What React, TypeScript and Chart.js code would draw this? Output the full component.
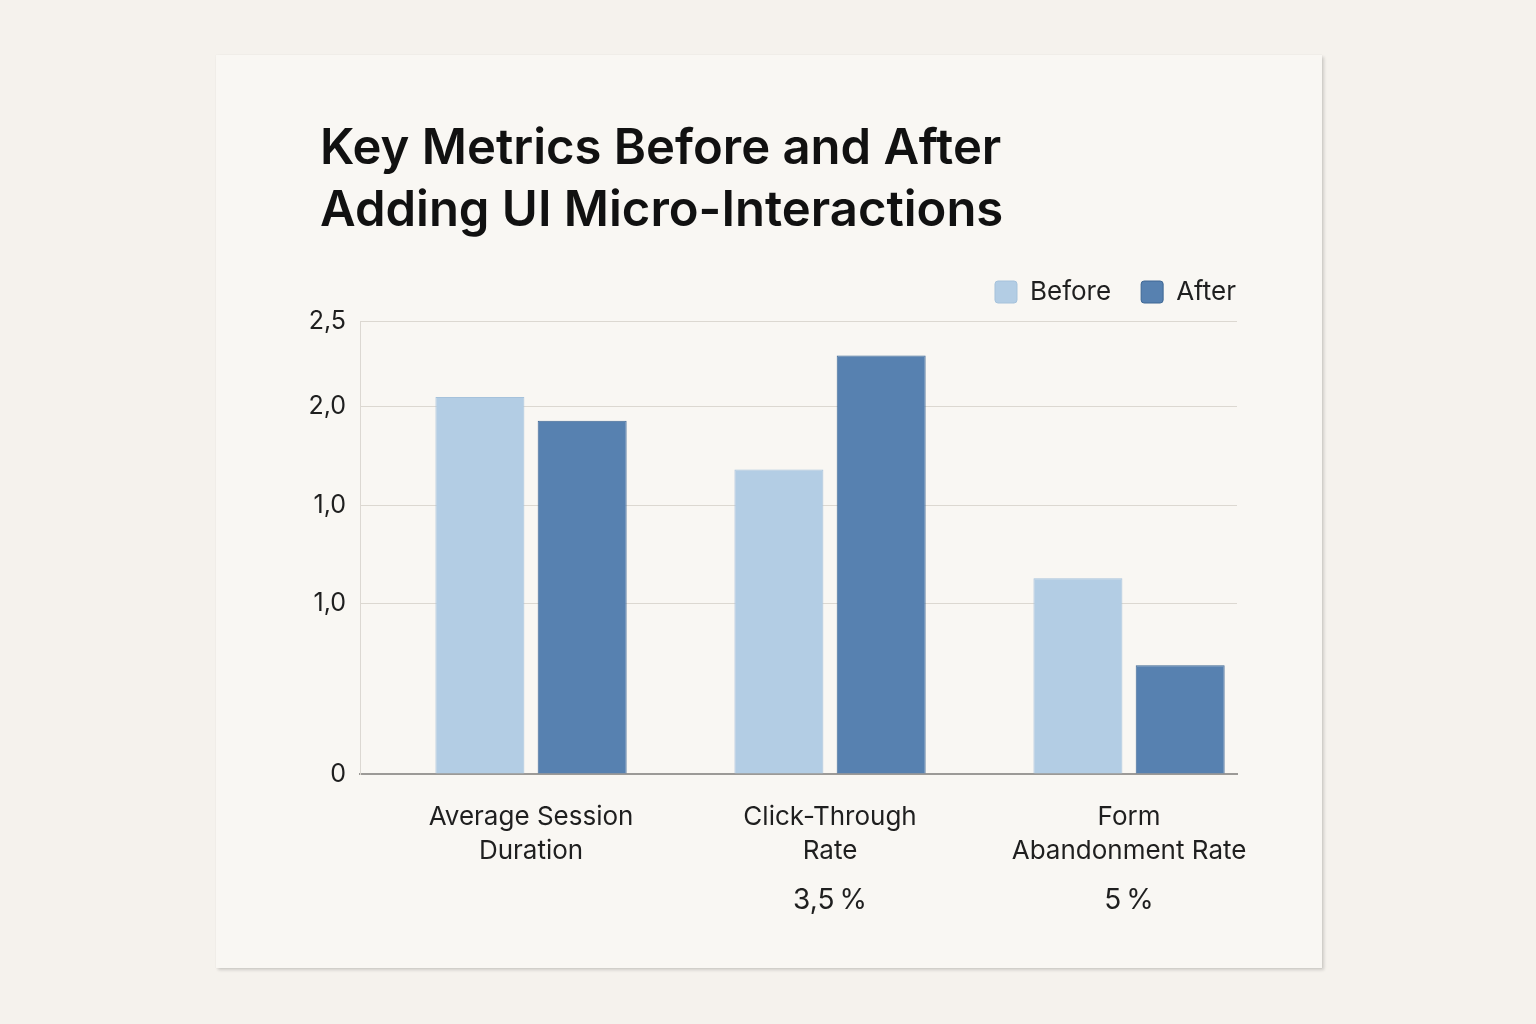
import { useEffect, useRef } from "react";
import { Chart, registerables, layouts } from "chart.js";

Chart.register(...registerables);

// Metric groups (multi-line axis labels) and the note printed under each group
const CATEGORIES: string[][] = [
  ["Average Session", "Duration"],
  ["Click-Through", "Rate"],
  ["Form", "Abandonment Rate"],
];
const NOTES = ["", "3,5\u202f%", "5\u202f%"];

// Series values
const BEFORE = [2.08, 1.68, 1.08];
const AFTER = [1.95, 2.31, 0.6];

// Y axis tick positions and their printed labels
const Y_TICK_VALUES = [0, 0.94, 1.48, 2.03, 2.5];
const Y_TICK_LABELS = ["0", "1,0", "1,0", "2,0", "2,5"];

const FONT = "Inter, 'Noto Sans', sans-serif";
const TEXT = "#1f1f1f";

// Small empty layout box that keeps some air between the legend and the plot
const legendGapPlugin = {
  id: "legendGap",
  beforeInit(chart: any) {
    const box: any = {
      position: "top",
      weight: 500,
      fullSize: true,
      options: {},
      top: 0,
      left: 0,
      right: 0,
      bottom: 0,
      width: 0,
      height: 0,
      isHorizontal: () => true,
      update(maxWidth: number) {
        box.width = maxWidth;
        box.height = 6;
      },
      draw() {},
    };
    layouts.addBox(chart, box);
  },
};

const notesPlugin = {
  id: "groupNotes",
  afterDraw(chart: any) {
    const { ctx, chartArea, scales } = chart;
    ctx.save();
    ctx.fillStyle = TEXT;
    ctx.font = `400 28px ${FONT}`;
    ctx.textAlign = "center";
    ctx.textBaseline = "middle";
    NOTES.forEach((note, i) => {
      if (!note) return;
      ctx.fillText(note, scales.x.getPixelForValue(i), chartArea.bottom + 127);
    });
    ctx.restore();
  },
};

export default function App() {
  const canvasRef = useRef<HTMLCanvasElement | null>(null);

  useEffect(() => {
    const canvas = canvasRef.current;
    if (!canvas) return;
    const chart = new Chart(canvas, {
      type: "bar",
      data: {
        datasets: [
          {
            label: "Before",
            data: BEFORE.map((y, i) => ({ x: i, y })),
            backgroundColor: "#b3cde4",
            borderColor: "#a6c2db",
            borderWidth: 1,
          },
          {
            label: "After",
            data: AFTER.map((y, i) => ({ x: i, y })),
            backgroundColor: "#5781b0",
            borderColor: "#3e6794",
            borderWidth: 1,
          },
        ],
      },
      options: {
        responsive: false,
        animation: false,
        layout: { padding: { top: 194, left: 0, right: 56, bottom: 100 } },
        datasets: {
          bar: { categoryPercentage: 0.684, barPercentage: 0.87 },
        },
        plugins: {
          legend: {
            position: "top",
            align: "end",
            labels: {
              boxWidth: 22,
              boxHeight: 22,
              padding: 30,
              color: TEXT,
              font: { family: FONT, size: 26 },
              useBorderRadius: true,
              borderRadius: 3,
            },
          },
          tooltip: { enabled: false },
        },
        scales: {
          x: {
            type: "linear",
            offset: false,
            min: -0.572,
            max: 2.361,
            afterBuildTicks: (s: any) => {
              s.ticks = CATEGORIES.map((_, i) => ({ value: i }));
            },
            afterFit: (s: any) => {
              s.paddingLeft = 0;
              s.paddingRight = 85;
              s.height = 94;
            },
            grid: { display: false, drawTicks: false },
            border: { color: "#9c9a97", width: 2 },
            ticks: {
              autoSkip: false,
              maxRotation: 0,
              padding: 26,
              color: TEXT,
              font: { family: FONT, size: 26, lineHeight: 1.31 },
              callback: (v: any) => CATEGORIES[Number(v)] ?? "",
            },
          },
          y: {
            min: 0,
            max: 2.5,
            afterBuildTicks: (s: any) => {
              s.ticks = Y_TICK_VALUES.map((value) => ({ value }));
            },
            afterFit: (s: any) => {
              s.width = 144;
            },
            grid: { color: "#dcd8d1", drawTicks: false },
            border: { color: "#dcd8d2", width: 1 },
            ticks: {
              padding: 14,
              color: TEXT,
              font: { family: FONT, size: 25 },
              callback: (_v: any, i: number) => Y_TICK_LABELS[i],
            },
          },
        },
      },
      plugins: [legendGapPlugin, notesPlugin],
    });
    return () => chart.destroy();
  }, []);

  return (
    <div style={{ position: "fixed", inset: 0, background: "#f5f2ed" }}>
      <div
        style={{
          position: "absolute",
          left: 216,
          top: 55,
          width: 1106,
          height: 913,
          background: "#f9f7f3",
          boxShadow: "2px 2px 3px rgba(0,0,0,0.16), 0 0 1px rgba(0,0,0,0.08)",
        }}
      >
        <div
          style={{
            position: "absolute",
            left: 104,
            top: 61,
            fontFamily: FONT,
            fontWeight: 600,
            fontSize: 49,
            lineHeight: "62px",
            color: "#111",
            whiteSpace: "nowrap",
          }}
        >
          Key Metrics Before and After
          <br />
          Adding UI Micro-Interactions
        </div>
        <canvas ref={canvasRef} width={1106} height={913} style={{ display: "block" }} />
      </div>
    </div>
  );
}
